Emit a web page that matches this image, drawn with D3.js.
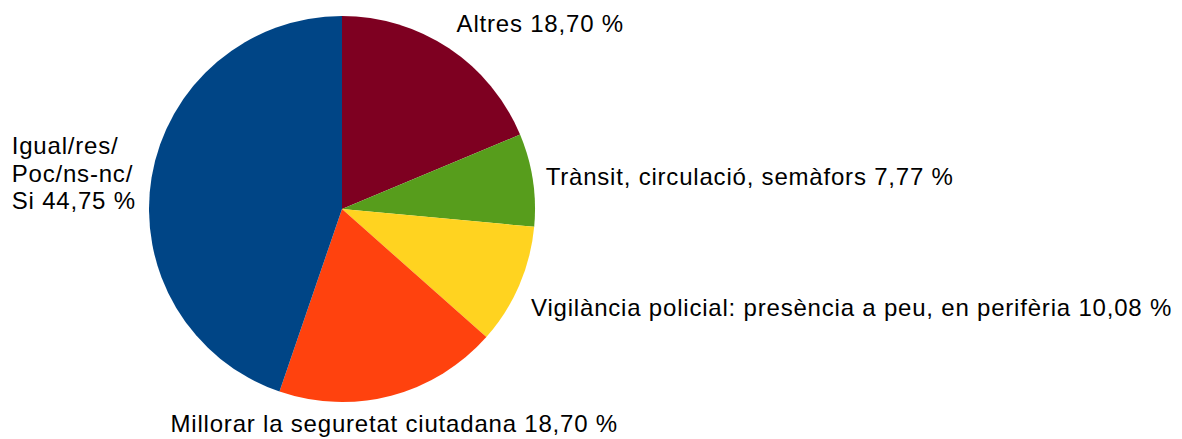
<!DOCTYPE html>
<html>
<head>
<meta charset="utf-8">
<script src="https://cdn.jsdelivr.net/npm/d3@7"></script>
<style>
  html, body { margin: 0; padding: 0; background: #fff; }
  svg { display: block; }
  text { font-family: "Liberation Sans", Arial, sans-serif; font-size: 24px; fill: #000; letter-spacing: 0.8px; }
</style>
</head>
<body>
<svg id="chart" width="1182" height="439"></svg>
<script>
// Slices, clockwise from 12 o'clock
const categories = [
  "Altres",
  "Trànsit, circulació, semàfors",
  "Vigilància policial: presència a peu, en perifèria",
  "Millorar la seguretat ciutadana",
  "Igual/res/\nPoc/ns-nc/\nSi"
];
const percentages = [18.70, 7.77, 10.08, 18.70, 44.75];
const colors = ["#7e0021", "#579d1c", "#ffd320", "#ff420e", "#004586"];

const width = 1182, height = 439;
const cx = 342, cy = 209, radius = 193;
const labelGap = 12;     // distance of label anchor from the rim
const capHeight = 17;    // cap height of the 24px label font
const lineHeight = 27.6;

const svg = d3.select("#chart");
const g = svg.append("g").attr("transform", `translate(${cx},${cy})`);

const data = categories.map((c, i) => ({ name: c, value: percentages[i], color: colors[i] }));

const pie = d3.pie().value(d => d.value).sort(null);
const arc = d3.arc().innerRadius(0).outerRadius(radius);
const arcs = pie(data);

g.selectAll("path.slice")
  .data(arcs)
  .join("path")
  .attr("class", "slice")
  .attr("d", arc)
  .attr("fill", d => d.data.color);

const fmt = v => v.toFixed(2).replace(".", ",") + " %";

arcs.forEach(a => {
  const mid = (a.startAngle + a.endAngle) / 2;
  const s = Math.sin(mid), c = Math.cos(mid);
  const px = (radius + labelGap) * s;
  const py = -(radius + labelGap) * c;
  const lines = (a.data.name + " " + fmt(a.data.value)).split("\n");

  const t = g.append("text");
  lines.forEach((ln, i) => {
    t.append("tspan").attr("x", 0).attr("y", i * lineHeight).text(ln);
  });
  let w = 0;
  t.selectAll("tspan").each(function () { w = Math.max(w, this.getComputedTextLength()); });
  const H = (lines.length - 1) * lineHeight + capHeight;

  // horizontal placement relative to the anchor point
  let x0;
  if (s > 0.3) x0 = px + 1;
  else if (s < -0.3) x0 = px - w - 4;
  else x0 = px - w / 2;

  // vertical placement (top of the capitals)
  let yTop;
  if (c > 0.3) yTop = py - H - 6.5;
  else if (c < -0.3) yTop = py + 8;
  else yTop = py - H / 2 - 2;

  t.selectAll("tspan")
    .attr("x", x0)
    .attr("y", (d, i, nodes) => yTop + capHeight + i * lineHeight);
});
</script>
</body>
</html>
